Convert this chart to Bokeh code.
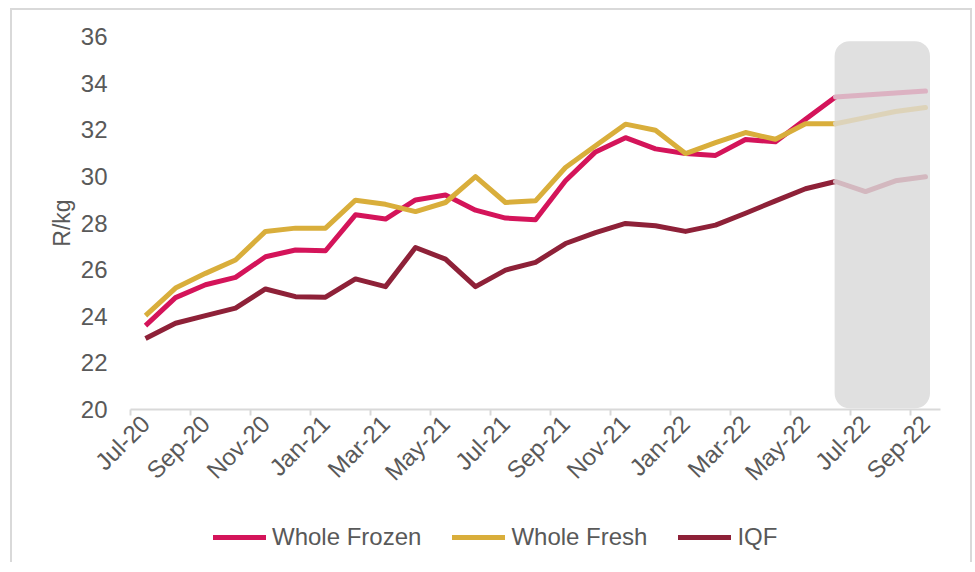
import math
from bokeh.plotting import figure
from bokeh.layouts import column
from bokeh.models import (FixedTicker, BoxAnnotation, Legend, LegendItem,
                          CustomJSTickFormatter, Range1d)
from bokeh.embed import file_html
from bokeh.resources import INLINE

months = ["Jul-20", "Aug-20", "Sep-20", "Oct-20", "Nov-20", "Dec-20",
          "Jan-21", "Feb-21", "Mar-21", "Apr-21", "May-21", "Jun-21",
          "Jul-21", "Aug-21", "Sep-21", "Oct-21", "Nov-21", "Dec-21",
          "Jan-22", "Feb-22", "Mar-22", "Apr-22", "May-22", "Jun-22",
          "Jul-22", "Aug-22", "Sep-22"]

whole_frozen = [23.6, 24.8, 25.35, 25.67, 26.55, 26.84, 26.81, 28.35, 28.17,
                28.99, 29.2, 28.55, 28.21, 28.14, 29.81, 31.05, 31.66, 31.18,
                30.98, 30.9, 31.58, 31.48, 32.45, 33.4, 33.49, 33.58, 33.66]

whole_fresh = [24.03, 25.21, 25.84, 26.41, 27.64, 27.78, 27.78, 28.98, 28.8,
               28.49, 28.88, 29.99, 28.88, 28.95, 30.38, 31.31, 32.24, 31.98,
               30.98, 31.45, 31.88, 31.59, 32.26, 32.26, 32.52, 32.78, 32.95]

iqf = [23.05, 23.70, 24.03, 24.35, 25.17, 24.84, 24.82, 25.6, 25.27,
       26.95, 26.45, 25.27, 25.98, 26.31, 27.12, 27.59, 27.98, 27.88,
       27.64, 27.91, 28.42, 28.95, 29.47, 29.78, 29.35, 29.81, 29.98]

series_names = ["Whole Frozen", "Whole Fresh", "IQF"]
forecast_start = 23  # Jun-22 onwards shown faded
y_ticks = [20, 22, 24, 26, 28, 30, 32, 34, 36]

FONT = "Liberation Sans"
TXT = "#595959"

x = list(range(len(months)))

p = figure(width=958, height=500, x_range=(-0.5, len(months) - 0.5),
           y_range=(20, 36), output_backend="svg", toolbar_location=None,
           min_border_left=118, min_border_right=30, min_border_top=26,
           min_border_bottom=101)
p.outline_line_color = None
p.xgrid.visible = False
p.ygrid.visible = False

# shaded forecast region
box = BoxAnnotation(left=22.97, right=26.15, bottom=20.05, top=35.8,
                    fill_color="#e0e0e0", fill_alpha=1.0, line_color=None,
                    border_radius=15, level="underlay")
p.add_layout(box)

colors = ["#D4145A", "#D9AE3B", "#8E2138"]
faded = ["#DCB2C2", "#DDD3B9", "#D3B8BF"]
values = [whole_frozen, whole_fresh, iqf]

for vals, col, fade in zip(values, colors, faded):
    p.line(x[:forecast_start + 1], vals[:forecast_start + 1], line_color=col,
           line_width=5, line_join="round", line_cap="butt")
    p.line(x[forecast_start:], vals[forecast_start:], line_color=fade,
           line_width=5, line_join="round", line_cap="round")

# axes
p.yaxis.ticker = FixedTicker(ticks=y_ticks)
p.yaxis.axis_line_color = None
p.yaxis.major_tick_line_color = None
p.yaxis.minor_tick_line_color = None
p.yaxis.major_label_text_font = FONT
p.yaxis.major_label_text_font_size = "24px"
p.yaxis.major_label_text_color = TXT
p.yaxis.major_label_standoff = 17
p.yaxis.axis_label = "R/kg"
p.yaxis.axis_label_text_font = FONT
p.yaxis.axis_label_text_font_size = "23px"
p.yaxis.axis_label_text_font_style = "normal"
p.yaxis.axis_label_text_color = TXT
p.yaxis.axis_label_standoff = 3

p.xaxis.ticker = FixedTicker(ticks=x[::2],
                             minor_ticks=[i - 0.5 for i in x[::2]])
p.xaxis.formatter = CustomJSTickFormatter(args=dict(labels=months),
                                          code="return labels[Math.round(tick)];")
p.xaxis.axis_line_color = "#d9d9d9"
p.xaxis.axis_line_width = 2
p.xaxis.major_tick_line_color = None
p.xaxis.minor_tick_line_color = "#d9d9d9"
p.xaxis.minor_tick_line_width = 2
p.xaxis.minor_tick_out = 6
p.xaxis.minor_tick_in = 0
p.xaxis.major_label_orientation = math.pi / 4
p.xaxis.major_label_text_font = FONT
p.xaxis.major_label_text_font_size = "24px"
p.xaxis.major_label_text_color = TXT
p.xaxis.major_label_standoff = 4

# legend in its own strip below the chart (sample lines lie outside its view)
lg = figure(width=958, height=52, output_backend="svg", toolbar_location=None,
            x_range=Range1d(0, 1), y_range=Range1d(0, 1),
            min_border_left=0, min_border_right=0, min_border_top=0,
            min_border_bottom=0, x_axis_location=None, y_axis_location=None)
lg.outline_line_color = None
lg.xgrid.visible = False
lg.ygrid.visible = False
items = []
for name, col in zip(series_names, colors):
    r = lg.line(x=[5, 6], y=[5, 6], line_color=col, line_width=5,
                line_cap="round")
    items.append(LegendItem(label=name, renderers=[r]))
legend = Legend(items=items, orientation="horizontal", location=(83, 11),
                glyph_width=53, glyph_height=24, label_height=24,
                label_standoff=6, spacing=31,
                padding=0, margin=0, border_line_color=None,
                background_fill_alpha=0,
                label_text_font=FONT, label_text_font_size="24px",
                label_text_color=TXT)
lg.add_layout(legend, "center")

layout = column(p, lg, spacing=0)
layout.styles = {"border-left": "2px solid #d9d9d9",
                 "border-top": "2px solid #d9d9d9",
                 "border-right": "2px solid #d9d9d9",
                 "margin-left": "10px", "margin-top": "8px"}

open("out.html", "w").write(file_html(layout, INLINE))
